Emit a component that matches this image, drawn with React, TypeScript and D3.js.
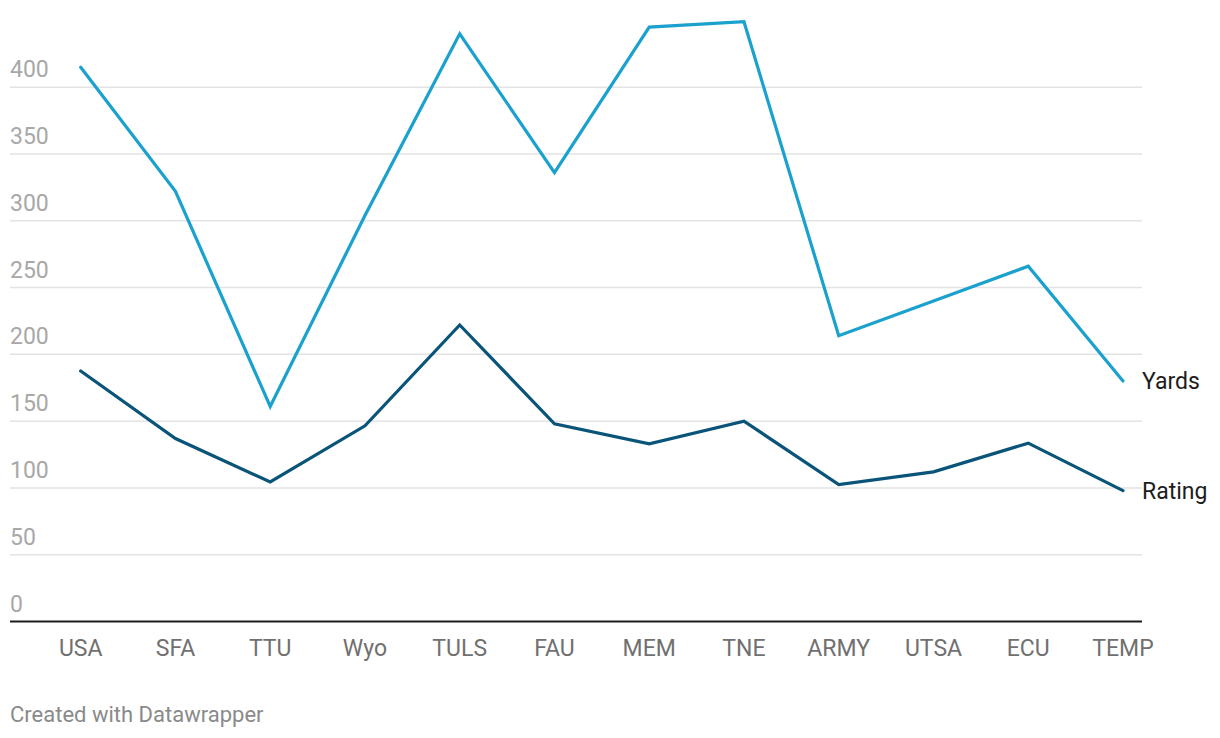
import React from "react";
import * as d3 from "d3";

const categories = ["USA", "SFA", "TTU", "Wyo", "TULS", "FAU", "MEM", "TNE", "ARMY", "UTSA", "ECU", "TEMP"];
const yards = [415, 322, 161, 304, 440, 336, 445, 449, 214, 240, 266, 180];
const rating = [187.5, 137, 104.5, 146.5, 222, 148, 133, 150, 102.5, 112, 133.5, 98];
const yTicks = [0, 50, 100, 150, 200, 250, 300, 350, 400];

const W = 1220;
const H = 738;
const FONT = "Roboto, 'Noto Sans', sans-serif";

export default function App() {
  const x = d3.scalePoint<string>().domain(categories).range([80.7, 1123]);
  const y = d3.scaleLinear().domain([0, 400]).range([621.5, 87.2]);

  const line = d3
    .line<number>()
    .x((_, i) => x(categories[i]) as number)
    .y((d) => y(d));

  const series = [
    { name: "Yards", values: yards, color: "#1aa1cd" },
    { name: "Rating", values: rating, color: "#0a5479" },
  ];

  return (
    <svg
      width={W}
      height={H}
      style={{ position: "absolute", left: 0, top: 0, background: "#fff" }}
      fontFamily={FONT}
    >
      {yTicks.map((t) => (
        <g key={t}>
          {t !== 0 && (
            <line x1={10} x2={1142} y1={y(t)} y2={y(t)} stroke="#e3e3e3" strokeWidth={1.5} />
          )}
          <text x={10} y={y(t) - 10} fontSize={23} fill="#a8a8a8">
            {t}
          </text>
        </g>
      ))}
      <line x1={10} x2={1142} y1={y(0)} y2={y(0)} stroke="#1d1d1d" strokeWidth={2} />
      {categories.map((c) => (
        <text key={c} x={x(c)} y={656} fontSize={23} fill="#707070" textAnchor="middle">
          {c}
        </text>
      ))}
      {series.map((s) => (
        <g key={s.name}>
          <path
            d={line(s.values) || ""}
            fill="none"
            stroke={s.color}
            strokeWidth={3.2}
            strokeLinejoin="miter"
            strokeLinecap="round"
          />
          <text
            x={1142}
            y={y(s.values[s.values.length - 1]) + 8}
            fontSize={23}
            fill="#1d1d1d"
          >
            {s.name}
          </text>
        </g>
      ))}
      <text x={10} y={722} fontSize={22} fill="#8a8a8a">
        Created with Datawrapper
      </text>
    </svg>
  );
}
